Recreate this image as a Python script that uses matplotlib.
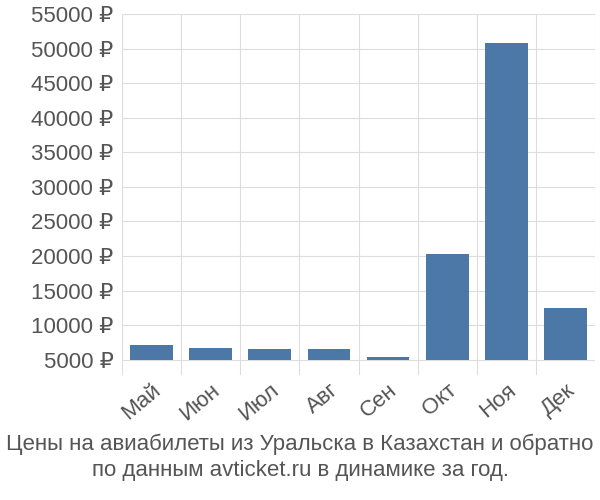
import numpy as np
import matplotlib.pyplot as plt
from matplotlib.ticker import FixedLocator

plt.rcParams['font.family'] = ['Liberation Sans', 'DejaVu Sans']

months = ['Май', 'Июн', 'Июл', 'Авг', 'Сен', 'Окт', 'Ноя', 'Дек']
prices = [7150, 6700, 6600, 6600, 5400, 20300, 50800, 12450]
yticks = list(range(5000, 55001, 5000))

fig = plt.figure(figsize=(6, 5), dpi=100)
ax = fig.add_axes([0.203, 0.25, 0.789, 0.722])
x = np.arange(len(months))
base = 5000
ax.bar(x, np.array(prices) - base, bottom=base, width=0.72, color='#4c78a8', zorder=3)
ax.set_xlim(-0.5, len(months) - 0.5)
ax.set_ylim(2800, 55000)
ax.set_yticks(yticks)
ax.set_yticklabels([f'{v} ₽' for v in yticks], fontsize=16, color='#555555')
ax.set_xticks(x)
ax.set_xticklabels(months, rotation=40, ha='right', rotation_mode='anchor', fontsize=16, color='#555555')
ax.xaxis.set_minor_locator(FixedLocator(np.arange(-0.5, len(months), 1)))
ax.grid(axis='y', color='#dddddd', zorder=0)
ax.grid(axis='x', which='minor', color='#dddddd', zorder=0)
ax.tick_params(which='both', length=0)
ax.tick_params(axis='y', pad=6)
for s in ax.spines.values():
    s.set_visible(False)
fig.text(0.5, 0.085, 'Цены на авиабилеты из Уральска в Казахстан и обратно\nпо данным avticket.ru в динамике за год.',
         ha='center', va='center', fontsize=16, color='#555555', linespacing=1.3)
fig.savefig('out.png')
